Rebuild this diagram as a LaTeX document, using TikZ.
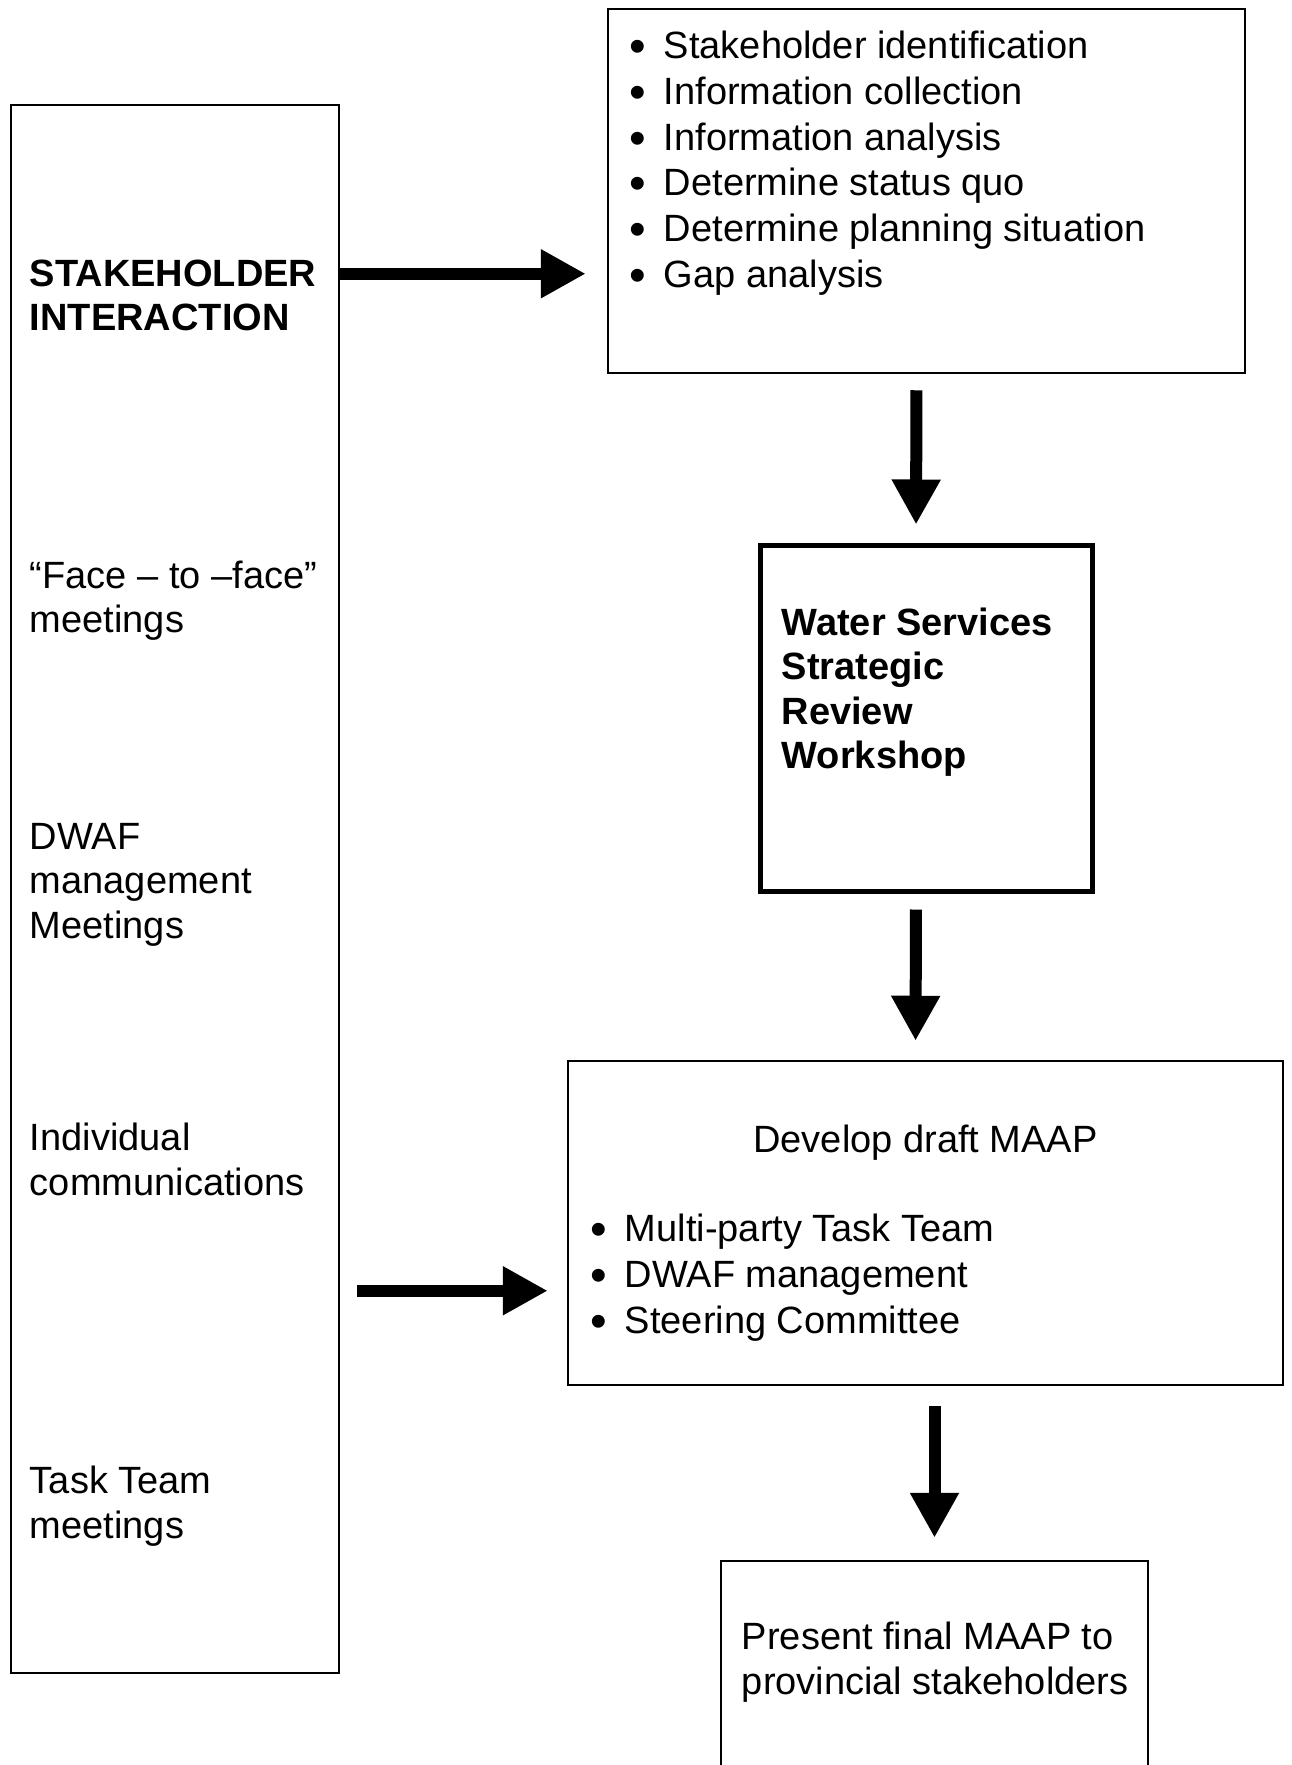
\documentclass[tikz,border=0pt]{standalone}
\usepackage{fontspec}
\setmainfont{Liberation Sans}
\usepackage{tikz}
\usetikzlibrary{calc}
\usetikzlibrary{arrows.meta}

\tikzstyle{box} = [rectangle, 
draw=black, 
line width=2.5pt, 
inner sep=0pt]
\tikzstyle{thickbox} = [rectangle, 
draw=black, 
line width=5pt, 
inner sep=0pt]
\tikzstyle{txt} = [inner sep=0pt, anchor=north west, align=left, 
font=\fontsize{38}{44.5}\selectfont]
\tikzstyle{boldtxt} = [txt, font=\fontsize{38}{44.5}\selectfont\bfseries]
\tikzstyle{listtxt} = [txt, font=\fontsize{38}{45.8}\selectfont]
\tikzstyle{blockarrow} = [line width=12pt, -{Triangle[length=45pt, width=46pt]}]
\newcommand{\itm}{\makebox[34pt][l]{\raisebox{-4pt}{\scalebox{1.25}{\textbullet}}}}

\begin{document}
\begin{tikzpicture}[x=1pt, y=-1pt]

    \fill [white] (0,0) rectangle (1292,1765);
    \useasboundingbox (0,0) rectangle (1292,1765);

    % the boxes
    \node (lbox) [box, minimum width=328pt, minimum height=1568pt] at (175,889) {};
    \node (tbox) [box, minimum width=637pt, minimum height=364pt] at (926.5,191) {};
    \node (wbox) [thickbox, minimum width=332pt, minimum height=346pt] at (926,718) {};
    \node (mbox) [box, minimum width=715pt, minimum height=324pt] at (925.5,1223) {};
    \node (fbox) [box, minimum width=427pt, minimum height=340pt] at (934.5,1731) {};

    % the texts (top of the first line)
    \node (stake) [boldtxt] at ($(lbox.north west)+(20,156)$) {STAKEHOLDER\\INTERACTION};
    \node (face) [txt] at ($(lbox.north west)+(20,457)$) {``Face -- to --face''\\meetings};
    \node (dwaf) [txt] at ($(lbox.north west)+(20,719)$) {DWAF\\management\\Meetings};
    \node (indiv) [txt] at ($(lbox.north west)+(20,1019)$) {Individual\\communications};
    \node (task) [txt] at ($(lbox.north west)+(20,1362)$) {Task Team\\meetings};

    \node (steps) [listtxt] at ($(tbox.north west)+(23,23)$) {\itm Stakeholder identification\\
        \itm Information collection\\
        \itm Information analysis\\
        \itm Determine status quo\\
        \itm Determine planning situation\\
        \itm Gap analysis};

    \node (workshop) [boldtxt] at ($(wbox.north west)+(24,65)$) {Water Services\\Strategic\\Review\\Workshop};

    \node (draft) [txt, anchor=base] at ($(mbox.north)+(0,93)$) {Develop draft MAAP};
    \node (teams) [listtxt] at ($(mbox.north west)+(24,154)$) {\itm Multi-party Task Team\\
        \itm DWAF management\\
        \itm Steering Committee};

    \node (present) [txt] at ($(fbox.north west)+(22,62)$) {Present final MAAP to\\provincial stakeholders};

    % the connectors
    \coordinate (gaprow) at ($(tbox.north west)+(0,266)$);
    \coordinate (teamrow) at ($(mbox.north west)+(0,231)$);

    \draw [blockarrow, shorten >=21pt] (lbox.east |- gaprow) -- (tbox.west |- gaprow);
    \draw [blockarrow, shorten <=16pt, shorten >=18pt] ([xshift=-10pt]tbox.south) -- ([xshift=-10pt]wbox.north);
    \draw [blockarrow, shorten <=16pt, shorten >=19pt] ([xshift=-10pt]wbox.south) -- ([xshift=-10pt]mbox.north);
    \draw [blockarrow, shorten <=17pt, shorten >=19pt] (lbox.east |- teamrow) -- (mbox.west |- teamrow);
    \draw [blockarrow, shorten <=20pt, shorten >=22pt] (mbox.south -| fbox.north) -- (fbox.north);

\end{tikzpicture}
\end{document}
